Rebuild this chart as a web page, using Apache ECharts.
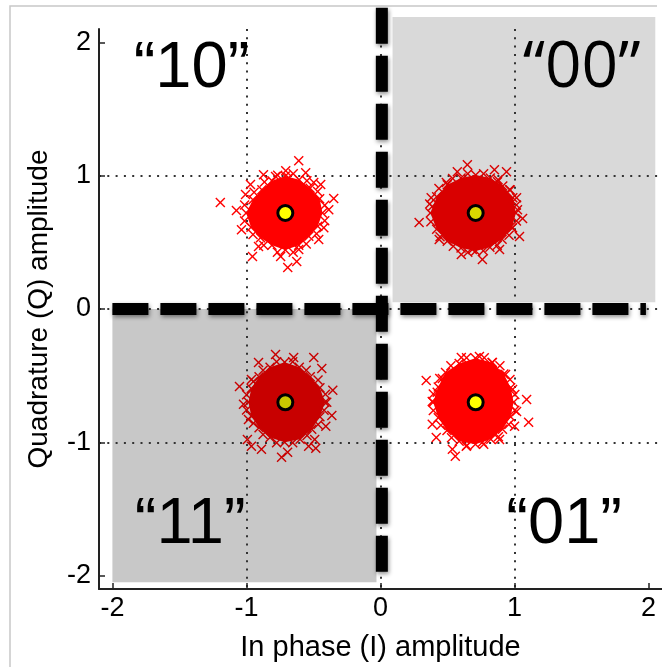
<!DOCTYPE html>
<html><head><meta charset="utf-8">
<script src="https://cdn.jsdelivr.net/npm/echarts@6/dist/echarts.min.js"></script>
<style>html,body{margin:0;padding:0;background:#fff}#c{width:662px;height:667px}</style>
</head><body><div id="c"></div>
<script>
// ---- data ----
const xTicks = [-2, -1, 0, 1, 2];
const yTicks = [-2, -1, 0, 1, 2];
const xName = 'In phase (I) amplitude';
const yName = 'Quadrature (Q) amplitude';

// ideal constellation symbols (yellow markers)
const symbolCenters = [[-0.71, 0.72], [0.71, 0.72], [0.71, -0.70], [-0.71, -0.70]];

// dense received-sample clouds (outline of the solid region) per symbol
const blobTL = [[-0.433,0.720],[-0.454,0.826],[-0.525,0.905],[-0.607,0.969],[-0.710,0.997],[-0.810,0.962],[-0.885,0.895],[-0.952,0.820],[-1.002,0.720],[-0.966,0.614],[-0.895,0.535],[-0.810,0.478],[-0.710,0.443],[-0.610,0.478],[-0.535,0.545],[-0.468,0.620]];
const blobTR = [[1.010,0.720],[0.987,0.835],[0.912,0.922],[0.819,0.983],[0.710,1.005],[0.601,0.983],[0.498,0.932],[0.419,0.841],[0.372,0.720],[0.419,0.599],[0.498,0.508],[0.601,0.457],[0.710,0.435],[0.816,0.463],[0.907,0.523],[0.981,0.608]];
const blobBR = [[0.993,-0.700],[0.971,-0.591],[0.920,-0.488],[0.832,-0.402],[0.708,-0.370],[0.587,-0.409],[0.485,-0.477],[0.431,-0.585],[0.393,-0.700],[0.431,-0.815],[0.496,-0.912],[0.587,-0.991],[0.708,-1.015],[0.823,-0.977],[0.910,-0.902],[0.971,-0.809]];
const blobBL = [[-0.415,-0.700],[-0.452,-0.591],[-0.524,-0.509],[-0.606,-0.437],[-0.715,-0.400],[-0.824,-0.437],[-0.906,-0.509],[-0.964,-0.597],[-0.985,-0.700],[-0.964,-0.803],[-0.906,-0.891],[-0.824,-0.963],[-0.715,-1.000],[-0.600,-0.977],[-0.513,-0.902],[-0.452,-0.809]];

// samples on the ragged rim of each cloud
const rimTL = [[-0.416,0.779],[-0.469,0.881],[-0.549,0.961],[-0.651,1.014],[-0.767,1.004],[-0.866,0.953],[-0.943,0.876],[-1.014,0.780],[-1.014,0.660],[-0.951,0.559],[-0.871,0.479],[-0.769,0.426],[-0.651,0.426],[-0.554,0.487],[-0.477,0.564],[-0.416,0.661]];
const rimTR = [[1.014,0.780],[0.968,0.892],[0.877,0.969],[0.769,1.014],[0.651,1.014],[0.538,0.978],[0.436,0.903],[0.367,0.788],[0.376,0.654],[0.444,0.542],[0.543,0.471],[0.651,0.426],[0.767,0.436],[0.871,0.479],[0.959,0.553],[1.014,0.660]];
const rimBR = [[1.002,-0.641],[0.966,-0.528],[0.891,-0.426],[0.774,-0.366],[0.642,-0.366],[0.525,-0.426],[0.442,-0.522],[0.394,-0.638],[0.394,-0.762],[0.450,-0.872],[0.530,-0.966],[0.644,-1.024],[0.770,-1.014],[0.880,-0.958],[0.957,-0.867],[1.002,-0.759]];
const rimBL = [[-0.411,-0.640],[-0.466,-0.533],[-0.554,-0.459],[-0.655,-0.396],[-0.775,-0.396],[-0.876,-0.459],[-0.948,-0.544],[-0.999,-0.643],[-0.999,-0.757],[-0.948,-0.856],[-0.876,-0.941],[-0.775,-1.004],[-0.655,-1.004],[-0.548,-0.949],[-0.466,-0.867],[-0.421,-0.759]];

// scattered samples at the fringe of each cloud
const edgeTL = [[-0.610,1.112],[-0.707,1.037],[-0.685,0.985],[-0.558,1.022],[-0.498,0.948],[-0.446,0.933],[-0.349,0.828],[-0.386,0.745],[-0.423,0.610],[-0.461,0.521],[-0.610,0.446],[-0.625,0.356],[-0.692,0.311],[-0.745,0.393],[-0.955,0.393],[-0.910,0.468],[-1.037,0.595],[-1.075,0.738],[-1.195,0.798],[-1.007,0.858],[-0.970,0.933],[-0.873,1.007],[-0.783,0.993]];
const edgeTR = [[0.648,1.082],[0.573,1.030],[0.850,1.045],[0.940,1.030],[0.873,0.955],[0.963,0.895],[1.015,0.835],[1.022,0.745],[1.060,0.678],[1.037,0.543],[0.985,0.610],[0.888,0.446],[0.760,0.371],[0.685,0.446],[0.603,0.408],[0.438,0.521],[0.288,0.648],[0.386,0.768],[0.378,0.835],[0.491,0.948],[0.723,0.970]];
const edgeBR = [[0.341,-0.536],[0.461,-0.521],[0.603,-0.363],[0.738,-0.356],[0.835,-0.401],[0.933,-0.491],[0.985,-0.603],[1.090,-0.678],[1.015,-0.768],[1.105,-0.850],[1.000,-0.880],[0.888,-0.978],[0.760,-1.000],[0.640,-1.030],[0.558,-1.105],[0.536,-1.052],[0.416,-0.963],[0.386,-0.865],[0.386,-0.693],[0.423,-0.625]];
const edgeBL = [[-0.783,-0.341],[-0.648,-0.363],[-0.498,-0.363],[-0.438,-0.446],[-0.910,-0.401],[-0.963,-0.528],[-1.052,-0.581],[-0.356,-0.610],[-0.401,-0.700],[-0.363,-0.798],[-0.408,-0.880],[-0.491,-0.978],[-0.483,-1.045],[-0.536,-1.030],[-0.693,-1.075],[-0.738,-1.112],[-0.888,-1.052],[-0.963,-1.030],[-0.993,-0.978],[-0.985,-0.828],[-1.022,-0.715]];

// decision-region shading [xmin, ymin, xmax, ymax]
const shade00 = [0.09, 0.05, 2.05, 2.19];
const shade11 = [-2.0, -2.05, -0.03, 0.0];

// decision boundaries
const hBoundary = [[-2.0, 0.0], [1.98, 0.0]];
const vBoundary = [[0.01, 2.26], [0.01, -1.97]];

// quadrant bit labels
const quadNames = ['\u201c10\u201d', '\u201c00\u201d', '\u201c11\u201d', '\u201c01\u201d'];
const quadPos = [[-1.41, 1.80], [1.50, 1.80], [-1.42, -1.62], [1.37, -1.62]];

// ---- chart ----
const XPATH = 'path://M0,1L1,0L5,4L9,0L10,1L6,5L10,9L9,10L5,6L1,10L0,9L4,5Z';
const chart = echarts.init(document.getElementById('c'), null, {renderer: 'canvas'});

function rectSeries(r, color) {
  return {type: 'custom', coordinateSystem: 'cartesian2d', clip: false, z: 0, silent: true,
    data: [[r[0], r[1]]],
    renderItem: (p, api) => {
      const a = api.coord([r[0], r[3]]), b = api.coord([r[2], r[1]]);
      return {type: 'rect', shape: {x: a[0], y: a[1], width: b[0] - a[0], height: b[1] - a[1]}, style: {fill: color}};
    }};
}
function blobSeries(pts, color) {
  return {type: 'custom', coordinateSystem: 'cartesian2d', clip: false, z: 2, silent: true,
    data: [pts[0]],
    renderItem: (p, api) => ({type: 'polygon', shape: {points: pts.map(q => api.coord(q))}, style: {fill: color}})};
}
function edgeSeries(pts, color) {
  return {type: 'scatter', symbol: XPATH, symbolSize: 10, z: 3, silent: true, clip: false,
    itemStyle: {color: color, opacity: 1}, data: pts};
}
const clusterColors = ['#ff0000', '#d90000', '#ff0000', '#c80000'];
const yellowColors = ['#ffff00', '#d9d900', '#ffff00', '#c8c800'];
const boundaryStyle = {color: '#000', width: 12, type: [36, 12], cap: 'butt',
  shadowColor: 'rgba(0,0,0,0.45)', shadowBlur: 4, shadowOffsetX: 1, shadowOffsetY: 2};

const axisCommon = (ticks) => ({
  type: 'value', min: -2.1, max: 2.1, z: 1,
  axisLine: {show: true, onZero: false, lineStyle: {color: '#222', width: 2}},
  axisTick: {show: true, inside: true, length: 6, customValues: ticks, lineStyle: {color: '#222', width: 1.5}},
  axisLabel: {customValues: ticks, fontSize: 27, color: '#000', fontFamily: 'Liberation Sans'},
  splitLine: {show: true, showMinLine: false, showMaxLine: false, lineStyle: {color: '#333', width: 2, type: [2, 6.3]}},
  nameLocation: 'middle', nameTextStyle: {color: '#000', fontFamily: 'Liberation Sans'}
});
const xAxis = axisCommon(xTicks);
xAxis.name = xName; xAxis.nameGap = 44; xAxis.nameTextStyle.fontSize = 29; xAxis.axisLabel.margin = 6;
const yAxis = axisCommon(yTicks);
yAxis.name = yName; yAxis.nameGap = 46; yAxis.nameTextStyle.fontSize = 28; yAxis.axisLabel.margin = 8;

chart.setOption({
  animation: false,
  backgroundColor: '#fff',
  grid: {left: 99, top: 29, width: 563, height: 561},
  xAxis: xAxis,
  yAxis: yAxis,
  graphic: [{type: 'polyline', shape: {points: [[10, 667], [10, 6], [657, 6]]}, style: {stroke: '#c8c8c8', lineWidth: 1.5, fill: null}, z: -10}],
  series: [
    rectSeries(shade00, '#d9d9d9'),
    rectSeries(shade11, '#c8c8c8'),
    blobSeries(blobTL, clusterColors[0]),
    blobSeries(blobTR, clusterColors[1]),
    blobSeries(blobBR, clusterColors[2]),
    blobSeries(blobBL, clusterColors[3]),
    edgeSeries(edgeTL.concat(rimTL, blobTL), clusterColors[0]),
    edgeSeries(edgeTR.concat(rimTR, blobTR), clusterColors[1]),
    edgeSeries(edgeBR.concat(rimBR, blobBR), clusterColors[2]),
    edgeSeries(edgeBL.concat(rimBL, blobBL), clusterColors[3]),
    {type: 'scatter', symbol: 'circle', symbolSize: 15, z: 5, silent: true,
      itemStyle: {borderColor: '#000', borderWidth: 3, opacity: 1},
      data: symbolCenters.map((c, i) => ({value: c, itemStyle: {color: yellowColors[i]}}))},
    {type: 'line', data: hBoundary, symbol: 'none', clip: false, z: 6, silent: true, lineStyle: boundaryStyle},
    {type: 'line', data: vBoundary, symbol: 'none', clip: false, z: 6, silent: true, lineStyle: boundaryStyle},
    {type: 'scatter', symbolSize: 0, z: 7, silent: true, clip: false,
      itemStyle: {opacity: 1},
      label: {show: true, position: 'inside', formatter: '{b}', color: '#000', fontSize: 65, fontFamily: 'Liberation Sans'},
      data: quadNames.map((n, i) => ({name: n, value: quadPos[i],
        label: i === 1 ? {fontFamily: 'Open Sans', fontSize: 64} : {}}))}
  ]
});
</script></body></html>
